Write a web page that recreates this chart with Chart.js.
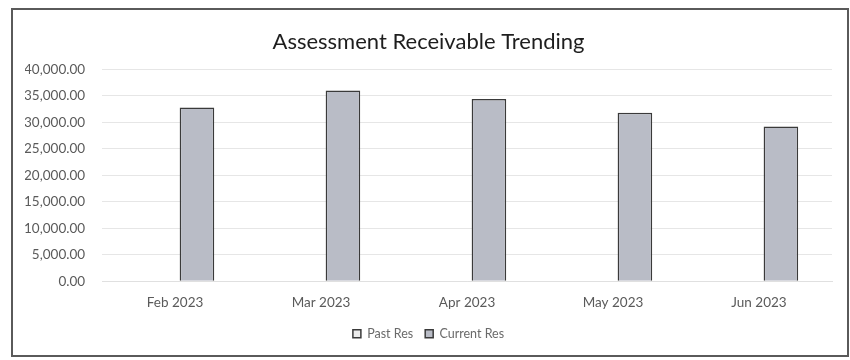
<!DOCTYPE html>
<html>
<head>
<meta charset="utf-8">
<script src="https://cdn.jsdelivr.net/npm/chart.js@4/dist/chart.umd.min.js"></script>
<style>
  html, body { margin: 0; padding: 0; background: #fff; }
  #wrap { position: relative; width: 850px; height: 360px; }
  #frame { position: absolute; left: 11px; top: 8px; width: 834px; height: 345px; border: 2px solid #5a5a5a; pointer-events: none; }
</style>
</head>
<body>
<div id="wrap">
  <canvas id="c" width="850" height="360"></canvas>
  <div id="frame"></div>
</div>
<script>
const categories = ["Feb 2023", "Mar 2023", "Apr 2023", "May 2023", "Jun 2023"];
const pastRes = [null, null, null, null, null];
const currentRes = [32800, 36000, 34400, 31800, 29200];
const yTicks = [0, 5000, 10000, 15000, 20000, 25000, 30000, 35000, 40000];
const chartTitle = "Assessment Receivable Trending";

const fontFamily = "Lato, 'Open Sans', sans-serif";

new Chart(document.getElementById('c'), {
  type: 'bar',
  data: {
    labels: categories,
    datasets: [
      {
        label: 'Past Res',
        data: pastRes,
        backgroundColor: '#ececec',
        borderColor: '#3a3a3a',
        borderWidth: 1.5,
        categoryPercentage: 0.6,
        barPercentage: 0.79
      },
      {
        label: 'Current Res',
        data: currentRes,
        backgroundColor: '#b9bcc6',
        borderColor: '#3a3a3a',
        borderWidth: 1.5,
        categoryPercentage: 0.6,
        barPercentage: 0.79
      }
    ]
  },
  options: {
    responsive: false,
    animation: false,
    layout: { padding: { left: 25, right: 18, top: 14, bottom: 10 } },
    plugins: {
      title: {
        display: true,
        text: chartTitle,
        color: '#1e1e1e',
        font: { family: fontFamily, size: 22, weight: 'normal' },
        padding: { top: 15, bottom: 14 }
      },
      legend: {
        position: 'bottom',
        labels: {
          color: '#6a6a6a',
          font: { family: fontFamily, size: 12.5 },
          boxWidth: 8,
          boxHeight: 8,
          padding: 12
        }
      },
      tooltip: { enabled: false }
    },
    scales: {
      x: {
        grid: { display: false },
        border: { display: true, color: '#e0e0e0' },
        ticks: { color: '#5a5a5a', font: { family: fontFamily, size: 13.5 }, padding: 5 }
      },
      y: {
        min: 0,
        max: 40000,
        afterBuildTicks: (axis) => { axis.ticks = yTicks.map(v => ({ value: v })); },
        afterFit: (axis) => { axis.width -= 18; },
        grid: { color: '#e6e6e6', drawTicks: false },
        border: { display: false },
        ticks: {
          color: '#5a5a5a',
          font: { family: fontFamily, size: 13.5 },
          padding: 17,
          callback: (v) => Number(v).toLocaleString('en-US', { minimumFractionDigits: 2, maximumFractionDigits: 2 })
        }
      }
    }
  }
});
</script>
</body>
</html>
